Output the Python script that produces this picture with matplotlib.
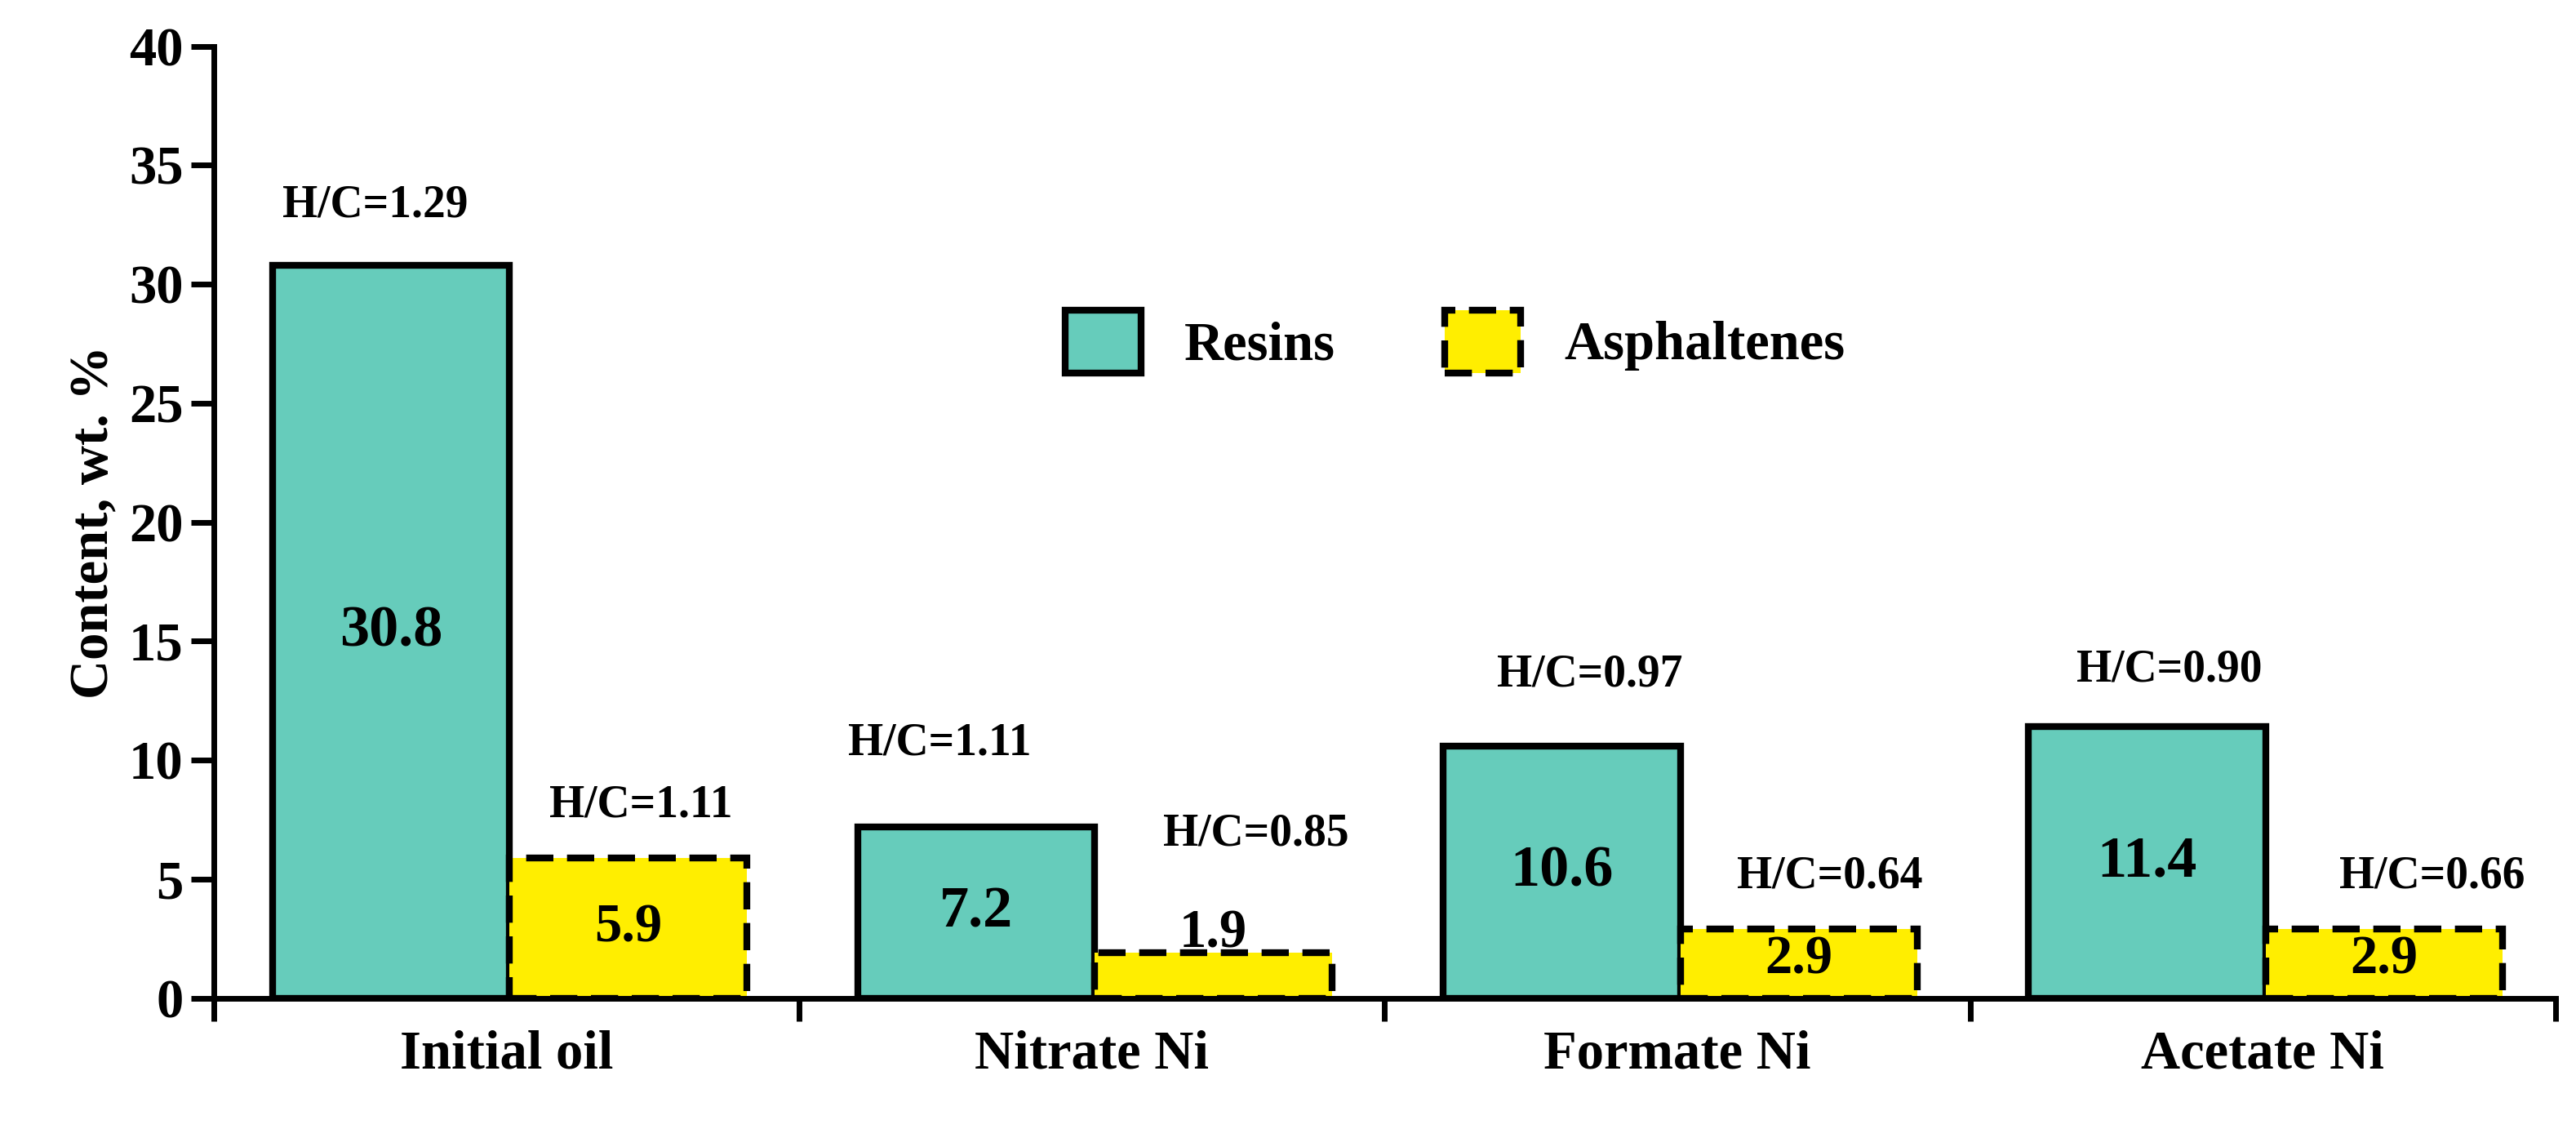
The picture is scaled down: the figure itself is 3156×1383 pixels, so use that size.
import matplotlib
matplotlib.use("Agg")
import matplotlib.pyplot as plt
import numpy as np
from matplotlib.patches import Patch

categories = ["Initial oil", "Nitrate Ni", "Formate Ni", "Acetate Ni"]
resins = [30.8, 7.2, 10.6, 11.4]
asph = [5.9, 1.9, 2.9, 2.9]
resin_hc = ["H/C=1.29", "H/C=1.11", "H/C=0.97", "H/C=0.90"]
asph_hc = ["H/C=1.11", "H/C=0.85", "H/C=0.64", "H/C=0.66"]
resin_hc_y = [33.3, 10.7, 13.6, 13.8]
asph_hc_y = [8.1, 6.9, 5.1, 5.1]
resin_hc_dx = [0.276, 0.24, 0.35, 0.34]
asph_hc_dx = [0.73, 0.78, 0.76, 0.79]

plt.rcParams['font.family'] = ['Liberation Serif', 'DejaVu Serif']
plt.rcParams['font.weight'] = 'bold'
fig = plt.figure(figsize=(15.78, 6.915), dpi=200)
ax = fig.add_axes([0.083, 0.116, 0.909, 0.843])

teal = "#66CCBB"
yel = "#FFEE00"
g = np.arange(len(categories))
w = 0.405
ax.bar(g + 0.1, resins, width=w, align='edge', color=teal, edgecolor='black', linewidth=3)
ax.bar(g + 0.1 + w, asph, width=w, align='edge', color=yel, edgecolor='black', linewidth=3, linestyle=(0, (4, 2)))

for i in g:
    ax.text(i + 0.1 + w / 2, resins[i] / 2, f"{resins[i]}", ha='center', va='center', fontsize=26, fontweight='bold')
    ay = asph[i] / 2 if asph[i] > 2.5 else asph[i] + 0.8
    if asph[i] == 2.9:
        ay = 1.6
    ax.text(i + 0.1 + 1.5 * w, ay, f"{asph[i]}", ha='center', va='center', fontsize=24, fontweight='bold')
    ax.text(i + resin_hc_dx[i], resin_hc_y[i], resin_hc[i], ha='center', va='center', fontsize=20, fontweight='bold')
    ax.text(i + asph_hc_dx[i], asph_hc_y[i], asph_hc[i], ha='center', va='center', fontsize=20, fontweight='bold')

ax.set_xlim(0, 4)
ax.set_ylim(0, 40)
ax.set_xticks([0, 1, 2, 3, 4])
ax.set_xticklabels([])
ax.set_xticks(g + 0.5, minor=True)
ax.set_xticklabels(categories, minor=True, fontsize=24, fontweight='bold')
ax.tick_params(axis='x', which='minor', length=0, pad=14)
ax.tick_params(axis='x', which='major', length=10, width=2.5, direction='out')
ax.set_yticks(range(0, 41, 5))
ax.tick_params(axis='y', labelsize=24, length=10, width=2.5)
for t in ax.get_yticklabels():
    t.set_fontweight('bold')
ax.set_ylabel("Content, wt. %", fontsize=24, fontweight='bold')
for s in ['top', 'right']:
    ax.spines[s].set_visible(False)
for s in ['left', 'bottom']:
    ax.spines[s].set_linewidth(2.5)

handles = [Patch(facecolor=teal, edgecolor='black', linewidth=3, label='Resins'),
           Patch(facecolor=yel, edgecolor='black', linewidth=3, linestyle=(0, (4, 2)), label='Asphaltenes')]
ax.legend(handles=handles, loc='center', bbox_to_anchor=(0.53, 0.69), ncol=2, frameon=False,
          prop={'size': 24, 'weight': 'bold'}, handlelength=1.4, handleheight=1.4, columnspacing=2)

fig.savefig("out.png")
